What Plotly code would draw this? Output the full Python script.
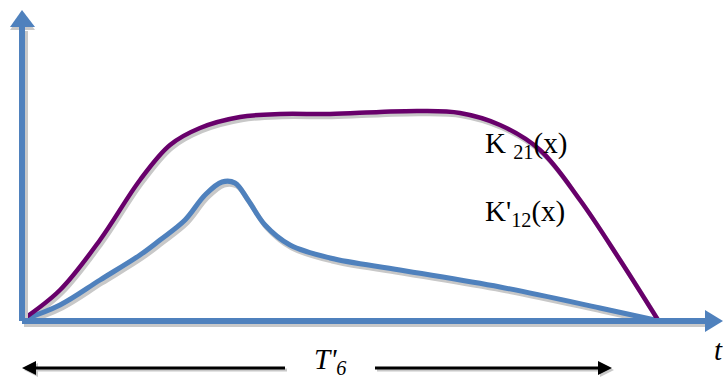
import plotly.graph_objects as go

# Schematic curves (t, K); origin at the axes' corner
k21_t = [0, 38, 78, 118, 148, 178, 218, 258, 308, 358, 398, 438, 478, 518, 558, 598, 636]
k21_v = [1, 31, 81, 141, 176, 193, 204, 207, 207, 209, 210, 208, 196, 171, 121, 61, 1]

k12_t = [0, 38, 78, 118, 138, 163, 183, 200, 213, 226, 243, 268, 308, 378, 478, 578, 633]
k12_v = [1, 16, 41, 66, 81, 101, 126, 139, 138, 121, 96, 76, 63, 51, 34, 13, 1]

labels = ["K <sub>21</sub>(x)", "K'<sub>12</sub>(x)"]
axis_label_t = "t"
span_label = "T'<sub>6</sub>"

BLUE = "#4f81bd"
PURPLE = "#68006b"
SHADOW = "#c8c8c8"
dx, dy = 2, -3

fig = go.Figure()

# shadows
fig.add_trace(go.Scatter(x=[t + dx for t in k12_t], y=[v + dy for v in k12_v], mode="lines",
                         line=dict(color=SHADOW, width=5, shape="spline", smoothing=1), hoverinfo="skip"))
fig.add_trace(go.Scatter(x=[t + dx for t in k21_t], y=[v + dy for v in k21_v], mode="lines",
                         line=dict(color=SHADOW, width=4.5, shape="spline", smoothing=1), hoverinfo="skip"))

fig.add_trace(go.Scatter(x=k12_t, y=k12_v, mode="lines",
                         line=dict(color=BLUE, width=5, shape="spline", smoothing=1), hoverinfo="skip"))
fig.add_trace(go.Scatter(x=k21_t, y=k21_v, mode="lines",
                         line=dict(color=PURPLE, width=4.5, shape="spline", smoothing=1), hoverinfo="skip"))

shapes = []
# axis shadows
shapes.append(dict(type="line", x0=2, y0=-3, x1=684, y1=-3, line=dict(color=SHADOW, width=6)))
shapes.append(dict(type="line", x0=3, y0=0, x1=3, y1=290, line=dict(color=SHADOW, width=6)))
shapes.append(dict(type="path", path="M -12,291 L 13,291 L 0,308 Z", fillcolor=SHADOW, line=dict(width=0)))
# axes
shapes.append(dict(type="line", x0=0, y0=0, x1=684, y1=0, line=dict(color=BLUE, width=6)))
shapes.append(dict(type="line", x0=0, y0=0, x1=0, y1=296, line=dict(color=BLUE, width=6)))
shapes.append(dict(type="path", path="M -12,294 L 13,294 L 0,311 Z", fillcolor=BLUE, line=dict(width=0)))
shapes.append(dict(type="path", path="M 683,11 L 683,-11 L 701,0 Z", fillcolor=BLUE, line=dict(width=0)))

# span arrows
ya = -47
for sh, col in [(2, SHADOW), (0, "black")]:
    shapes.append(dict(type="line", x0=10 + sh, y0=ya - sh, x1=263 + sh, y1=ya - sh, line=dict(color=col, width=3)))
    shapes.append(dict(type="line", x0=353 + sh, y0=ya - sh, x1=580 + sh, y1=ya - sh, line=dict(color=col, width=3)))
    shapes.append(dict(type="path", path=f"M {0+sh},{ya-sh} L {14+sh},{ya+7-sh} L {14+sh},{ya-7-sh} Z",
                       fillcolor=col, line=dict(width=0)))
    shapes.append(dict(type="path", path=f"M {590+sh},{ya-sh} L {576+sh},{ya+7-sh} L {576+sh},{ya-7-sh} Z",
                       fillcolor=col, line=dict(width=0)))

fig.update_layout(shapes=shapes)

font = dict(family="Liberation Serif", size=29, color="black")
fig.add_annotation(x=461, y=176, text=labels[0], showarrow=False, xanchor="left", yanchor="middle", font=font)
fig.add_annotation(x=461, y=108, text=labels[1], showarrow=False, xanchor="left", yanchor="middle", font=font)
fig.add_annotation(x=690, y=-29, text=f"<i>{axis_label_t}</i>", showarrow=False, xanchor="left", yanchor="middle", font=font)
fig.add_annotation(x=308, y=-40, text=f"<i>{span_label}</i>", showarrow=False, xanchor="center", yanchor="middle", font=font)

fig.update_layout(
    width=723, height=378,
    margin=dict(l=0, r=0, t=0, b=0),
    paper_bgcolor="white", plot_bgcolor="white",
    showlegend=False,
    xaxis=dict(range=[-22, 701], visible=False, fixedrange=True),
    yaxis=dict(range=[-57, 321], visible=False, fixedrange=True),
)

fig.write_html("out.html", config={"displayModeBar": False},
               post_script="document.body.style.margin='0';document.body.style.overflow='hidden';")
